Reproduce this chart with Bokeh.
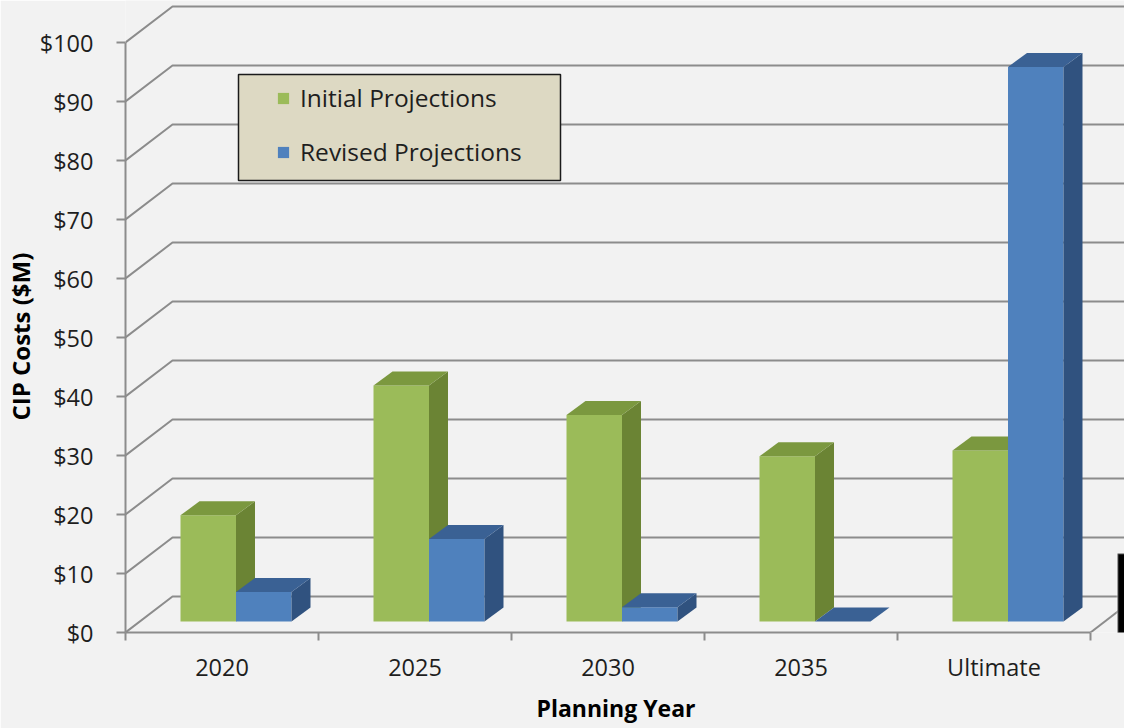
from bokeh.plotting import figure
from bokeh.models import (FixedTicker, LinearAxis, Legend, LegendItem, Range1d,
                          BoxAnnotation, Title)
from bokeh.embed import file_html
from bokeh.resources import INLINE

# ---------------- data ----------------
categories = ["2020", "2025", "2030", "2035", "Ultimate"]
initial = [18, 40, 35, 28, 29]
revised = [5, 14, 2.4, 0, 94]
y_ticks = [0, 10, 20, 30, 40, 50, 60, 70, 80, 90, 100]
y_tick_labels = ["$0", "$10", "$20", "$30", "$40", "$50", "$60", "$70", "$80", "$90", "$100"]
series_names = ["Initial Projections", "Revised Projections"]
x_title = "Planning Year"
y_title = "CIP Costs ($M)"

# ---------------- style / geometry ----------------
W, H = 1124, 728
FRAME_L, FRAME_B = 125, 632
PX_PER_CAT = 193.0
PX_PER_USD = 5.9
BG = "#f2f2f2"
GRID = "#8c8c8c"
TXT = "#1e1e1e"
FONT = "Open Sans"

x_end = (W - FRAME_L) / PX_PER_CAT
y_end = FRAME_B / PX_PER_USD


def dx(px):
    return px / PX_PER_CAT


def dy(px):
    return px / PX_PER_USD


WALL_DX, WALL_DY = dx(47), dy(36)      # perspective depth of walls
BAR_SHIFT_X, BAR_SHIFT_Y = dx(14), dy(11)  # bar front plane inside the floor
BAR_DX, BAR_DY = dx(19), dy(14)        # bar depth
BAR_W = dx(55.5)

colors = {
    "Initial Projections": ("#9bbb59", "#6b8434", "#7b983f"),
    "Revised Projections": ("#4f81bd", "#30527f", "#3a6194"),
}

p = figure(width=W, height=H, x_range=Range1d(0, x_end), y_range=Range1d(0, y_end),
           output_backend="svg", toolbar_location=None,
           x_axis_type=None, y_axis_type=None,
           min_border_left=FRAME_L, min_border_right=0, min_border_top=0,
           min_border_bottom=H - FRAME_B,
           background_fill_color=BG, border_fill_color=BG, outline_line_color=None)
p.xgrid.visible = False
p.ygrid.visible = False

# ---------------- walls / gridlines ----------------
gxs, gys = [], []
for v in y_ticks:
    gxs.append([0, WALL_DX, x_end])
    gys.append([v, v + WALL_DY, v + WALL_DY])
n = len(categories)
gxs.append([n, n + WALL_DX])
gys.append([0, WALL_DY])
p.multi_line(gxs, gys, line_color=GRID, line_width=2)

# ---------------- bars ----------------
legend_items = []
for s, (name, vals) in enumerate(zip(series_names, [initial, revised])):
    front_c, side_c, top_c = colors[name]
    lefts, rights, tops, bottoms = [], [], [], []
    side_x, side_y, top_x, top_y = [], [], [], []
    for i, v in enumerate(vals):
        c = i + 0.5 + BAR_SHIFT_X
        x0 = c - BAR_W if s == 0 else c
        x1 = x0 + BAR_W
        b = BAR_SHIFT_Y
        t = b + v
        lefts.append(x0); rights.append(x1); bottoms.append(b); tops.append(t)
        side_x.append([x1, x1 + BAR_DX, x1 + BAR_DX, x1])
        side_y.append([b, b + BAR_DY, t + BAR_DY, t])
        top_x.append([x0, x0 + BAR_DX, x1 + BAR_DX, x1])
        top_y.append([t, t + BAR_DY, t + BAR_DY, t])
    r = p.quad(left=lefts, right=rights, top=tops, bottom=bottoms,
               fill_color=front_c, line_color=None)
    p.patches(side_x, side_y, fill_color=side_c, line_color=None)
    p.patches(top_x, top_y, fill_color=top_c, line_color=None)
    legend_items.append(LegendItem(label=name, renderers=[r]))

# ---------------- axes ----------------
yaxis = LinearAxis(ticker=FixedTicker(ticks=y_ticks),
                   major_label_overrides={v: l for v, l in zip(y_ticks, y_tick_labels)},
                   bounds=(0, 100))
yaxis.axis_line_color = GRID
yaxis.axis_line_width = 2
yaxis.major_tick_line_color = GRID
yaxis.major_tick_line_width = 2
yaxis.major_tick_out = 9
yaxis.major_tick_in = 0
yaxis.minor_tick_line_color = None
yaxis.major_label_standoff = 23
yaxis.major_label_text_font = FONT
yaxis.major_label_text_font_size = "23.5px"
yaxis.major_label_text_color = TXT
p.add_layout(yaxis, "left")

centers = [i + 0.5 for i in range(n)]
xaxis = LinearAxis(ticker=FixedTicker(ticks=centers, minor_ticks=list(range(n + 1))),
                   major_label_overrides={c: l for c, l in zip(centers, categories)},
                   bounds=(0, n))
xaxis.axis_line_color = GRID
xaxis.axis_line_width = 2
xaxis.major_tick_line_color = None
xaxis.major_tick_out = 0
xaxis.major_tick_in = 0
xaxis.minor_tick_line_color = GRID
xaxis.minor_tick_line_width = 2
xaxis.minor_tick_out = 8
xaxis.minor_tick_in = 0
xaxis.major_label_standoff = 10
xaxis.major_label_text_font = FONT
xaxis.major_label_text_font_size = "23.5px"
xaxis.major_label_text_color = TXT
p.add_layout(xaxis, "below")

# axis titles as side-panel titles, offset like the original
p.add_layout(Title(text=y_title, align="left", offset=212, standoff=0,
                   text_font=FONT, text_font_style="bold", text_font_size="24px",
                   text_color="#000000"), "left")
p.add_layout(Title(text=x_title, align="left", offset=411, standoff=9,
                   text_font=FONT, text_font_style="bold", text_font_size="23px",
                   text_color="#000000"), "below")

# ---------------- legend ----------------
box = BoxAnnotation(left=dx(238 - FRAME_L), right=dx(560 - FRAME_L),
                    top=dy(FRAME_B - 74), bottom=dy(FRAME_B - 180),
                    fill_color="#ddd9c3", fill_alpha=1.0,
                    line_color="#1a1a1a", line_width=1.5, line_alpha=1.0)
p.add_layout(box)
legend = Legend(items=legend_items, location=(151, FRAME_B - 168),
                padding=0, margin=0, spacing=21, glyph_width=14, glyph_height=14,
                label_height=20, label_standoff=10,
                label_text_font=FONT, label_text_font_size="24.5px", label_text_color=TXT,
                background_fill_alpha=0, border_line_alpha=0)
p.add_layout(legend)

# ---------------- screenshot artifact (black strip at right edge) ----------------
strip = BoxAnnotation(left=dx(1117 - FRAME_L), right=x_end + 1, top=dy(FRAME_B - 553),
                      bottom=-50, fill_color="black", fill_alpha=1.0,
                      line_color="white", line_width=2)
p.add_layout(strip)

open("out.html", "w").write(file_html(p, INLINE))
